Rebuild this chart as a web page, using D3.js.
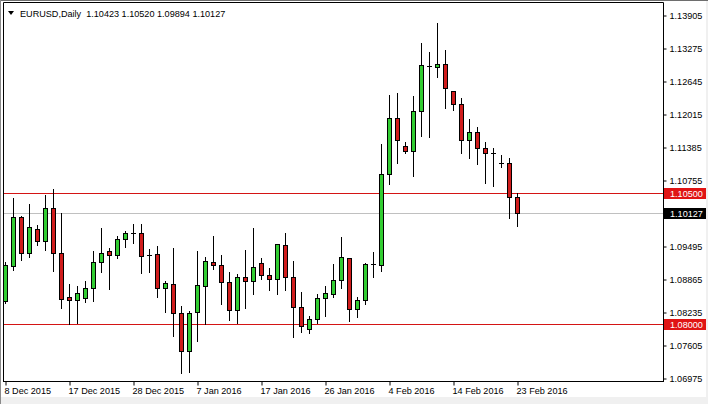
<!DOCTYPE html>
<html>
<head>
<meta charset="utf-8">
<script src="https://cdn.jsdelivr.net/npm/d3@7"></script>
<style>
  html, body { margin: 0; padding: 0; background: #f0f0f0; }
  svg { display: block; }
  text { font-family: "Liberation Sans", Arial, sans-serif; font-size: 9.1px; }
</style>
</head>
<body>
<svg id="chart" width="708" height="404"></svg>
<script>
// ---------- DATA ----------
const symbol = "EURUSD,Daily";
const dates = [
  "8 Dec 2015","9 Dec 2015","10 Dec 2015","11 Dec 2015","13 Dec 2015","14 Dec 2015","15 Dec 2015","16 Dec 2015",
  "17 Dec 2015","18 Dec 2015","20 Dec 2015","21 Dec 2015","22 Dec 2015","23 Dec 2015","24 Dec 2015","27 Dec 2015",
  "28 Dec 2015","29 Dec 2015","30 Dec 2015","31 Dec 2015","3 Jan 2016","4 Jan 2016","5 Jan 2016","6 Jan 2016",
  "7 Jan 2016","8 Jan 2016","10 Jan 2016","11 Jan 2016","12 Jan 2016","13 Jan 2016","14 Jan 2016","15 Jan 2016",
  "17 Jan 2016","18 Jan 2016","19 Jan 2016","20 Jan 2016","21 Jan 2016","22 Jan 2016","24 Jan 2016","25 Jan 2016",
  "26 Jan 2016","27 Jan 2016","28 Jan 2016","29 Jan 2016","31 Jan 2016","1 Feb 2016","2 Feb 2016","3 Feb 2016",
  "4 Feb 2016","5 Feb 2016","7 Feb 2016","8 Feb 2016","9 Feb 2016","10 Feb 2016","11 Feb 2016","12 Feb 2016",
  "14 Feb 2016","15 Feb 2016","16 Feb 2016","17 Feb 2016","18 Feb 2016","19 Feb 2016","21 Feb 2016","22 Feb 2016",
  "23 Feb 2016"
];
const open = [
  1.08441,1.09110,1.10053,1.09365,1.09824,1.09587,1.10224,1.09365,
  1.08512,1.08468,1.08506,1.08697,1.09199,1.09390,1.09314,1.09633,
  1.09747,1.09734,1.09314,1.09333,1.08697,1.08774,1.08220,1.07487,
  1.08231,1.08728,1.09186,1.09136,1.08817,1.08270,1.08907,1.08831,
  1.09174,1.08945,1.08869,1.09518,1.08907,1.08334,1.07915,1.08105,
  1.08506,1.08583,1.08837,1.09270,1.08296,1.08460,1.09142,1.09129,
  1.10873,1.11943,1.11408,1.11305,1.12068,1.12922,1.12916,1.12973,
  1.12450,1.12210,1.11523,1.11675,1.11370,1.11267,1.11076,1.11083,
  1.10423
];
const high = [
  1.09199,1.10415,1.10077,1.10306,1.09906,1.10478,1.10587,1.10129,
  1.08779,1.08741,1.08837,1.09409,1.09843,1.09461,1.09696,1.09797,
  1.09925,1.09925,1.09442,1.09505,1.08837,1.09461,1.08359,1.08264,
  1.09409,1.09300,1.09696,1.09333,1.09008,1.08970,1.09428,1.09843,
  1.09270,1.09079,1.09537,1.09747,1.09218,1.08621,1.08168,1.08583,
  1.08741,1.09155,1.09671,1.09270,1.08537,1.09186,1.09384,1.11446,
  1.12387,1.12420,1.11484,1.12368,1.13374,1.13202,1.13756,1.13246,
  1.12450,1.12324,1.11923,1.11782,1.11484,1.11381,1.11242,1.11179,
  1.10520
];
const low = [
  1.08417,1.09047,1.09237,1.09300,1.09524,1.09428,1.09033,1.08315,
  1.08016,1.08041,1.08441,1.08460,1.09014,1.08690,1.09270,1.09480,
  1.09556,1.08984,1.09014,1.08525,1.08250,1.07787,1.07086,1.07105,
  1.07697,1.08016,1.09066,1.08392,1.08092,1.08041,1.08327,1.08588,
  1.08875,1.08665,1.08583,1.08665,1.07762,1.07869,1.07838,1.08041,
  1.08168,1.08525,1.08697,1.08079,1.08143,1.08397,1.08919,1.09033,
  1.10683,1.11083,1.11274,1.10847,1.11610,1.11591,1.12737,1.12133,
  1.12101,1.11274,1.11179,1.11064,1.10702,1.10656,1.11019,1.10033,
  1.09894
];
const close = [
  1.09123,1.10053,1.09365,1.09862,1.09587,1.10224,1.09365,1.08487,
  1.08468,1.08602,1.08697,1.09199,1.09365,1.09327,1.09633,1.09747,
  1.09747,1.09300,1.09314,1.08697,1.08793,1.08220,1.07487,1.08220,
  1.08741,1.09218,1.09129,1.08804,1.08270,1.08907,1.08823,1.09098,
  1.08938,1.08869,1.09537,1.08899,1.08334,1.07964,1.08105,1.08506,
  1.08602,1.08837,1.09289,1.08296,1.08460,1.09155,1.09142,1.10873,
  1.11943,1.11523,1.11305,1.12068,1.12941,1.12922,1.12973,1.12515,
  1.12210,1.11523,1.11675,1.11370,1.11261,1.11267,1.11076,1.10423,
  1.10127
];
const priceTicks = [1.13905,1.13275,1.12645,1.12015,1.11385,1.10755,1.09495,1.08865,1.08235,1.07605,1.06975];
const dateTicks = ["8 Dec 2015","17 Dec 2015","28 Dec 2015","7 Jan 2016","17 Jan 2016","26 Jan 2016","4 Feb 2016","14 Feb 2016","23 Feb 2016"];
const levels = [1.10500, 1.08000];
const priceDomain = [1.06975, 1.13905];

// ---------- LAYOUT ----------
const W = 708, H = 404;
const plot = { left: 3.5, right: 663.5, top: 2.5, bottom: 381.5 };
const barStep = 8;
const green = "#32cd32", red = "#d01c1c", lineRed = "#d41414";

const svg = d3.select("#chart");
svg.append("rect").attr("width", W).attr("height", H).attr("fill", "#f0f0f0");
svg.append("rect").attr("x", 1).attr("y", 1).attr("width", 705).attr("height", 396).attr("fill", "#ffffff");
svg.append("line").attr("x1", 0).attr("x2", W).attr("y1", 0.5).attr("y2", 0.5).attr("stroke", "#6e6e6e");
svg.append("line").attr("x1", 0.5).attr("x2", 0.5).attr("y1", 0).attr("y2", H).attr("stroke", "#8a8a8a");

const x = d3.scalePoint().domain(dates).range([5.5, 5.5 + barStep * (dates.length - 1)]);
const y = d3.scaleLinear().domain(priceDomain).range([378.5, 15.5]);
const pix = v => Math.round(v - 0.5);          // integer pixel row
const snap = v => pix(v) + 0.5;                // crisp line centre

svg.append("defs").append("clipPath").attr("id", "clip")
  .append("rect").attr("x", plot.left + 0.5).attr("y", plot.top + 0.5)
  .attr("width", plot.right - plot.left - 1).attr("height", plot.bottom - plot.top - 1);

const g = svg.append("g").attr("clip-path", "url(#clip)");

// bid line (last close)
const last = close[close.length - 1];
g.append("rect").attr("x", plot.left).attr("width", plot.right - plot.left)
  .attr("y", pix(y(last))).attr("height", 1).attr("fill", "#c0c0c0");

// level lines (1px filled rects)
g.selectAll("rect.level").data(levels).join("rect").attr("class", "level")
  .attr("x", plot.left).attr("width", plot.right - plot.left)
  .attr("y", d => pix(y(d))).attr("height", 1)
  .attr("fill", lineRed);

const bars = dates.map((d, i) => ({ d, o: open[i], h: high[i], l: low[i], c: close[i] }));

// wicks
g.selectAll("line.wick").data(bars).join("line").attr("class", "wick")
  .attr("x1", b => x(b.d)).attr("x2", b => x(b.d))
  .attr("y1", b => Math.round(y(b.h))).attr("y2", b => Math.round(y(b.l)) + 1)
  .attr("stroke", "#000").attr("stroke-width", 1);

// bodies
const bodies = bars.filter(b => Math.abs(y(b.o) - y(b.c)) >= 1);
g.selectAll("rect.body").data(bodies).join("rect").attr("class", "body")
  .attr("x", b => x(b.d) - 2)
  .attr("y", b => snap(y(Math.max(b.o, b.c))))
  .attr("width", 4)
  .attr("height", b => Math.max(1, snap(y(Math.min(b.o, b.c))) - snap(y(Math.max(b.o, b.c)))))
  .attr("fill", b => b.c > b.o ? green : red)
  .attr("stroke", "#000").attr("stroke-width", 1);

// doji
const dojis = bars.filter(b => Math.abs(y(b.o) - y(b.c)) < 1);
g.selectAll("line.doji").data(dojis).join("line").attr("class", "doji")
  .attr("x1", b => x(b.d) - 2.5).attr("x2", b => x(b.d) + 2.5)
  .attr("y1", b => snap(y(b.c))).attr("y2", b => snap(y(b.c)))
  .attr("stroke", "#000").attr("stroke-width", 1);

// frame lines
svg.append("line").attr("x1", plot.left).attr("x2", plot.left).attr("y1", plot.top).attr("y2", plot.bottom).attr("stroke", "#000");
svg.append("line").attr("x1", plot.left).attr("x2", plot.right).attr("y1", plot.top).attr("y2", plot.top).attr("stroke", "#000");
svg.append("line").attr("x1", plot.right).attr("x2", plot.right).attr("y1", plot.top).attr("y2", plot.bottom + 0.5).attr("stroke", "#000");
svg.append("line").attr("x1", plot.left - 0.5).attr("x2", plot.right + 0.5).attr("y1", plot.bottom).attr("y2", plot.bottom).attr("stroke", "#000");

// right price axis
const yAxis = d3.axisRight(y).tickValues(priceTicks).tickSize(3).tickPadding(3)
  .tickFormat(d3.format(".5f"));
const ya = svg.append("g").attr("transform", `translate(${plot.right},0)`).call(yAxis);
ya.select(".domain").remove();
ya.selectAll("text").attr("fill", "#000").style("font-size", "9.1px").style("font-family", "Liberation Sans, Arial, sans-serif");

// bottom date axis
const xAxis = d3.axisBottom(x).tickValues(dateTicks).tickSize(4).tickPadding(2);
const xa = svg.append("g").attr("transform", `translate(0,${plot.bottom})`).call(xAxis);
xa.select(".domain").remove();
xa.selectAll("text").attr("text-anchor", "start").attr("dx", "-1.5").attr("fill", "#000")
  .style("font-size", "9.1px").style("font-family", "Liberation Sans, Arial, sans-serif");

// price labels
const fmt = d3.format(".5f");
const tags = [
  { v: levels[0], bg: "#e01414" },
  { v: levels[1], bg: "#e01414" },
  { v: last, bg: "#000000" }
];
const tg = svg.selectAll("g.tag").data(tags).join("g").attr("class", "tag")
  .attr("transform", d => `translate(${plot.right + 0.5},${snap(y(d.v))})`);
tg.append("rect").attr("x", 0).attr("y", -5.5).attr("width", 42).attr("height", 11).attr("fill", d => d.bg);
tg.append("text").attr("x", 6).attr("y", 3.5).attr("fill", "#fff").text(d => fmt(d.v));

// header
svg.append("path").attr("d", "M8,11 L14,11 L11,15 Z").attr("fill", "#000");
svg.append("text").attr("x", 20).attr("y", 16.5).attr("fill", "#000")
  .attr("xml:space", "preserve").style("white-space", "pre")
  .text(`${symbol}  ${fmt(open[open.length-1])} ${fmt(high[high.length-1])} ${fmt(low[low.length-1])} ${fmt(last)}`);
</script>
</body>
</html>
